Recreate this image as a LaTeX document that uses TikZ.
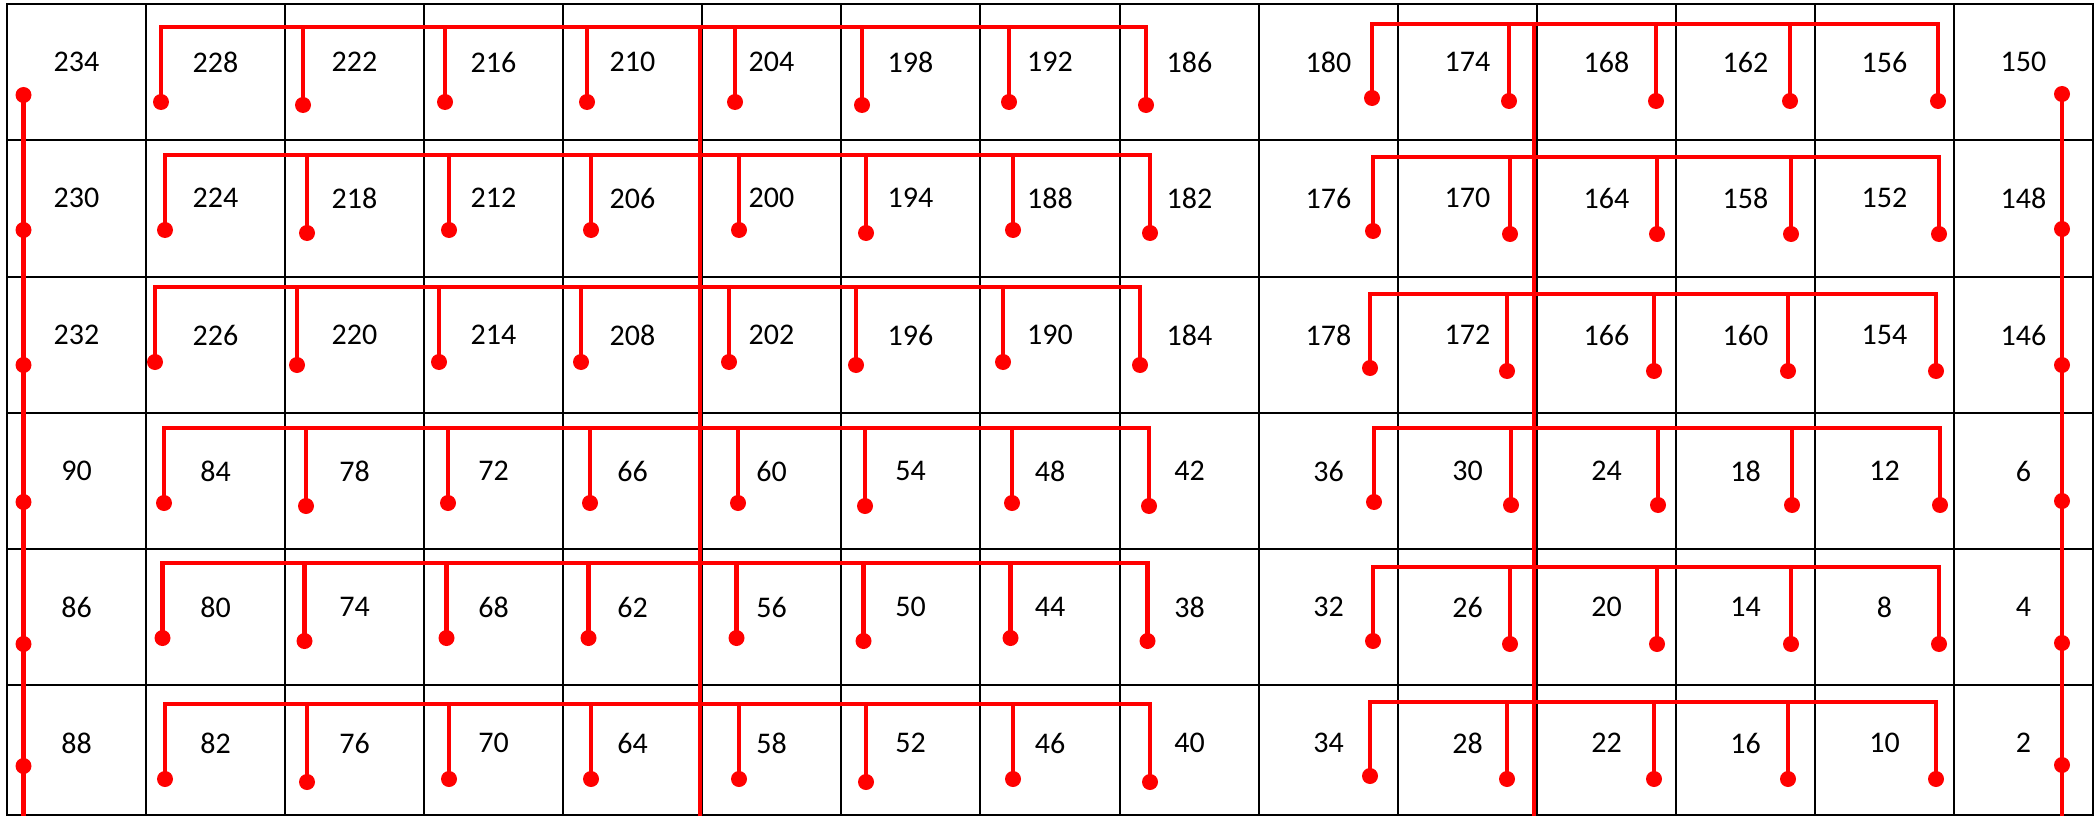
\documentclass[tikz,border=0pt]{standalone}
\usepackage{fontspec}
\setmainfont{Carlito}
\begin{document}
\begin{tikzpicture}[x=1bp,y=-1bp,
  cell/.style={draw=black,line width=2bp,inner sep=0pt,outer sep=0pt},
  num/.style={font=\fontsize{30bp}{36bp}\selectfont,inner sep=0pt,anchor=center,text=black},
  wire/.style={draw=red,line width=4.8bp,line join=miter,line cap=butt},
  dot/.style={circle,fill=red,draw=none,minimum size=16bp,inner sep=0pt}]
\useasboundingbox (0,0) rectangle (2098,816);
\fill[white] (0,0) rectangle (2098,816);
% table cells and numbers
\foreach \r/\top/\bot/\nums in {
  1/4/140/{234,228,222,216,210,204,198,192,186,180,174,168,162,156,150},
  2/140/277/{230,224,218,212,206,200,194,188,182,176,170,164,158,152,148},
  3/277/413/{232,226,220,214,208,202,196,190,184,178,172,166,160,154,146},
  4/413/549/{90,84,78,72,66,60,54,48,42,36,30,24,18,12,6},
  5/549/685/{86,80,74,68,62,56,50,44,38,32,26,20,14,8,4},
  6/685/815/{88,82,76,70,64,58,52,46,40,34,28,22,16,10,2}} {
  \foreach \n [count=\c from 0] in \nums {
    \pgfmathsetmacro{\xa}{7+round(139.07*\c)}
    \pgfmathsetmacro{\xb}{7+round(139.07*(\c+1))}
    \node[cell,minimum width={(\xb-\xa)*1bp},minimum height={(\bot-\top)*1bp}] (cell-\r-\c) at ({(\xa+\xb)/2},{(\top+\bot)/2}) {};
    \node[num] (num-\r-\c) at ({(\xa+\xb)/2},{\top+58}) {\n};
  }
}
% left block buses
\foreach \r/\B/\S in {1/27/0,2/155/4,3/287/-6,4/428/3,5/563/1.5,6/704/4} {
  \foreach \bx/\dd [count=\k from 0] in {161/0,303/3,445/0,587/0,735/0,862/3,1009/0,1146/3} {
    \coordinate (bl-\r-\k) at ({\bx+\S},\B);
    \node[dot] (dl-\r-\k) at ({\bx+\S},{\B+75+\dd}) {};
  }
  \draw[wire] (dl-\r-0.center) -- (bl-\r-0) -- (bl-\r-7) -- (dl-\r-7.center);
  \foreach \k in {1,...,6} \draw[wire] (bl-\r-\k) -- (dl-\r-\k.center);
}
% right block buses
\foreach \r/\B/\S in {1/24/0,2/157/1,3/294/-2,4/428/2,5/567/1,6/702/-2} {
  \foreach \bx/\dd [count=\k from 0] in {1372/-3,1509/0,1656/0,1790/0,1938/0} {
    \coordinate (br-\r-\k) at ({\bx+\S},\B);
    \node[dot] (dr-\r-\k) at ({\bx+\S},{\B+77+\dd}) {};
  }
  \draw[wire] (dr-\r-0.center) -- (br-\r-0) -- (br-\r-4) -- (dr-\r-4.center);
  \foreach \k in {1,2,3} \draw[wire] (br-\r-\k) -- (dr-\r-\k.center);
}
% central trunks
\coordinate (cl-top) at (700,27);
\coordinate (cl-bot) at (700,816);
\draw[wire] (cl-top) -- (cl-bot);
\coordinate (cr-top) at (1534,24);
\coordinate (cr-bot) at (1534,816);
\draw[wire] (cr-top) -- (cr-bot);
% outer trunks
\foreach \y [count=\k] in {95,230,365,502,644,766}
  \node[dot] (tl-\k) at (23.5,\y) {};
\coordinate (tl-bot) at (23.5,816);
\draw[wire] (tl-1.center) -- (tl-bot);
\foreach \y [count=\k] in {94,229,365,501,643,765}
  \node[dot] (tr-\k) at (2062,\y) {};
\coordinate (tr-bot) at (2062,816);
\draw[wire] (tr-1.center) -- (tr-bot);
\end{tikzpicture}
\end{document}
